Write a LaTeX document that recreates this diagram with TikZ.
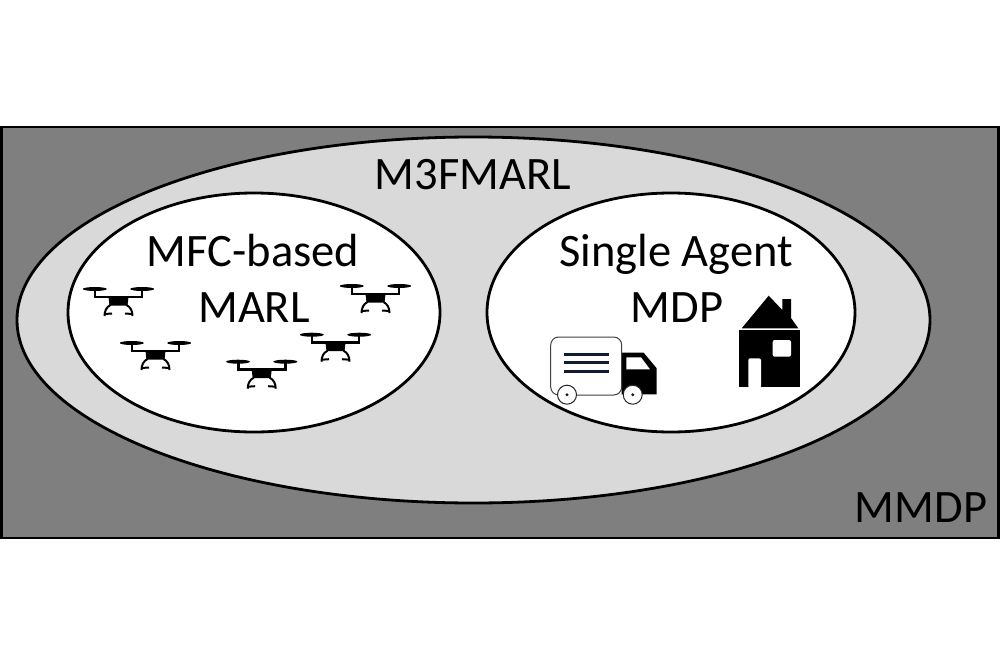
\documentclass[tikz,border=0pt]{standalone}
\usepackage{fontspec}
\setmainfont{Carlito}
\usetikzlibrary{shapes.geometric}
\definecolor{outerg}{HTML}{7F7F7F}
\definecolor{midg}{HTML}{D9D9D9}
\definecolor{navy}{HTML}{0F1A33}
\tikzset{
  x=1pt,y=-1pt,
  region/.style={draw=black,line width=2.8pt,ellipse,inner sep=0pt},
  lab/.style={font=\fontsize{46.5}{46.5}\selectfont,text=black,inner sep=0pt,anchor=base},
  frame/.style={line width=2.6pt},
  leg/.style={line width=2pt},
  drone/.pic={
    \fill[black] (-23.7,0) ellipse (12 and 2);
    \fill[black] (23.7,0) ellipse (12 and 2);
    \draw[frame] (-23.5,-1) -- (-23.5,8) -- (23.5,8) -- (23.5,-1);
    \fill[black] (-10,8) -- (10,8) -- (9,16.5) -- (-9,16.5) -- cycle;
    \draw[leg] (-8,16) .. controls (-12,18) and (-14,22) .. (-14,27);
    \draw[leg] (8,16) .. controls (12,18) and (14,22) .. (14,27);
    \draw[leg] (-14,25) -- (-6.5,24.5);
    \draw[leg] (14,25) -- (6.5,24.5);
  }
}
\begin{document}
\begin{tikzpicture}
\useasboundingbox (0,0) rectangle (1000,666);
\fill[white] (0,0) rectangle (1000,666);
\node[draw=black,line width=2.8pt,fill=outerg,rectangle,minimum width=997pt,minimum height=411pt,inner sep=0pt] (mmdp) at (500,332.5) {};
\node[region,fill=midg,minimum width=913pt,minimum height=366pt] (m3f) at (473.5,320) {};
\node[region,fill=white,minimum width=372pt,minimum height=239pt] (mfc) at (254,312.5) {};
\node[region,fill=white,minimum width=368pt,minimum height=239pt] (single) at (671,312.5) {};
\node[lab] (tm3f) at (473,189) {M3FMARL};
\node[lab] (tmfc) at (253,266) {MFC-based};
\node[lab] (tmarl) at (254,322.5) {MARL};
\node[lab] (tsingle) at (676,266) {Single Agent};
\node[lab] (tmdp) at (677,322.5) {MDP};
\node[lab] (tmmdp) at (921,522) {MMDP};
\pic at (118.5,289) {drone};
\pic at (155.5,343) {drone};
\pic at (375.5,286) {drone};
\pic at (335.5,334.7) {drone};
\pic at (261.7,361.7) {drone};
% truck
\fill[black] (621.7,352.7) -- (643.7,352.7) -- (656.7,368.3) -- (656.7,394.3) -- (621.7,394.3) -- cycle;
\fill[white] (626.3,357.3) -- (641,357.3) -- (650,369.3) -- (626.3,369.3) -- cycle;
\draw[draw=black!75,fill=white,line width=1pt,rounded corners=8pt] (550.7,337) rectangle (621.7,395);
\draw[navy,line width=2.8pt] (564,354.3) -- (609,354.3);
\draw[navy,line width=2.8pt] (564,362.7) -- (609,362.7);
\draw[navy,line width=2.8pt] (564,371.3) -- (609,371.3);
\draw[draw=black!85,fill=white,line width=1pt] (567,394.7) circle (9.5);
\fill[navy] (567,394.7) circle (1.6);
\draw[draw=black!85,fill=white,line width=1pt] (632.7,394.7) circle (9.5);
\fill[navy] (632.7,394.7) circle (1.6);
% house
\fill[black] (741.7,328.3) -- (768.7,295.7) -- (782.3,310) -- (782.3,299) -- (791,299) -- (791,318) -- (798.3,328.3) -- cycle;
\fill[black] (739.3,330) rectangle (799.7,387.3);
\fill[white,rounded corners=2pt] (748.3,388) -- (748.3,358.3) -- (761,358.3) -- (761,388) -- cycle;
\fill[white,rounded corners=2pt] (772.7,340) rectangle (791,356.7);
\end{tikzpicture}
\end{document}
